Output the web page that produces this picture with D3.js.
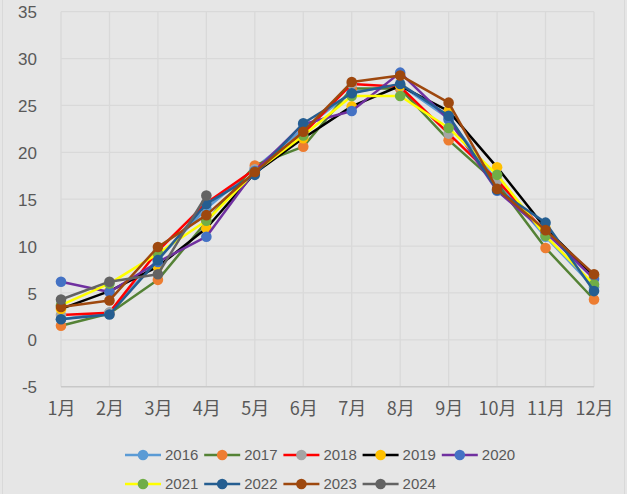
<!DOCTYPE html>
<html><head><meta charset="utf-8">
<script src="https://cdn.jsdelivr.net/npm/d3@7"></script>
<style>html,body{margin:0;padding:0;background:#e6e6e6;}svg{display:block;}</style>
</head><body>
<svg id="c" width="627" height="494"></svg>
<script>
const months = ["1月","2月","3月","4月","5月","6月","7月","8月","9月","10月","11月","12月"];
const yTicks = [-5,0,5,10,15,20,25,30,35];
const seriesNames = ["2016","2017","2018","2019","2020","2021","2022","2023","2024"];
const lineColors = ["#5B9BD5","#548235","#FF0000","#000000","#7030A0","#FFFF00","#255E91","#9E480E","#636363"];
const markerColors = ["#5B9BD5","#ED7D31","#A5A5A5","#FFC000","#4472C4","#70AD47","#255E91","#9E480E","#636363"];
const v2016 = [2.2, 2.9, 8.6, 14.0, 18.3, 22.5, 26.4, 27.2, 23.6, 16.9, 11.0, 5.6];
const v2017 = [1.5, 2.8, 6.4, 12.6, 18.6, 20.6, 26.8, 26.8, 21.3, 16.7, 9.8, 4.3];
const v2018 = [2.65, 2.9, 9.5, 14.6, 18.2, 22.0, 27.3, 27.0, 22.0, 17.0, 11.5, 6.8];
const v2019 = [3.3, 5.2, 7.8, 11.9, 17.8, 21.5, 24.9, 27.1, 24.4, 18.4, 11.9, 6.8];
const v2020 = [6.2, 5.1, 8.3, 11.0, 18.0, 23.0, 24.4, 28.5, 23.5, 15.9, 11.5, 6.5];
const v2021 = [3.7, 6.0, 9.2, 12.7, 17.9, 21.8, 26.0, 26.0, 22.6, 17.6, 11.1, 5.9];
const v2022 = [2.2, 2.7, 8.5, 14.5, 17.6, 23.1, 26.3, 27.3, 23.9, 16.0, 12.5, 5.2];
const v2023 = [3.5, 4.2, 9.9, 13.3, 17.9, 22.2, 27.5, 28.2, 25.3, 16.1, 11.7, 7.0];
const v2024 = [4.3, 6.2, 7.0, 15.4];
const allValues = [v2016,v2017,v2018,v2019,v2020,v2021,v2022,v2023,v2024];

(function(){
const svg = d3.select("#c");
const W = 627, H = 494;
svg.append("rect").attr("width",W).attr("height",H).attr("fill","#e6e6e6");
svg.append("rect").attr("x",2.5).attr("y",-1).attr("width",W-5).attr("height",H+2)
  .attr("fill","none").attr("stroke","#d9d9d9").attr("stroke-width",1);

const pLeft = 61, pRight = 594, pTop = 11.7, pBottom = 386.7;
const x = d3.scalePoint().domain(months).range([pLeft, pRight]);
const y = d3.scaleLinear().domain([-5,35]).range([pBottom, pTop]);
const font = "'Noto Sans CJK SC','Noto Sans',sans-serif";
const numFont = "'Liberation Sans',Arial,sans-serif";

svg.append("g").selectAll("line").data(yTicks.filter(d=>d>-5)).join("line")
  .attr("x1",pLeft).attr("x2",pRight).attr("y1",d=>y(d)).attr("y2",d=>y(d))
  .attr("stroke","#d9d9d9").attr("stroke-width",1.3);
svg.append("g").selectAll("line").data(months).join("line")
  .attr("x1",d=>x(d)).attr("x2",d=>x(d)).attr("y1",pTop).attr("y2",pBottom)
  .attr("stroke","#d9d9d9").attr("stroke-width",1.3);
svg.append("line").attr("x1",pLeft).attr("x2",pRight).attr("y1",pBottom).attr("y2",pBottom)
  .attr("stroke","#c8c8c8").attr("stroke-width",1.5);

const yAxis = d3.axisLeft(y).tickValues(yTicks).tickSize(0).tickPadding(0).tickFormat(d=>String(d));
const ga = svg.append("g").attr("transform",`translate(${pLeft-24},0)`).call(yAxis);
ga.select(".domain").remove();
ga.selectAll("text").attr("font-family",numFont).attr("font-size",17).attr("fill","#595959").attr("dy","0.36em");

const xAxis = d3.axisBottom(x).tickSize(0).tickPadding(0);
const gx = svg.append("g").attr("transform",`translate(0,${pBottom+17})`).call(xAxis);
gx.select(".domain").remove();
gx.selectAll("text").attr("font-family",font).attr("font-size",18).attr("fill","#595959").attr("dy","0.6em");

const line = d3.line().x((d,i)=>x(months[i])).y(d=>y(d));
allValues.forEach((vals,si)=>{
  const g = svg.append("g");
  g.append("path").datum(vals).attr("d",line).attr("fill","none")
    .attr("stroke",lineColors[si]).attr("stroke-width",2.5).attr("stroke-linejoin","round");
  g.selectAll("circle").data(vals).join("circle")
    .attr("cx",(d,i)=>x(months[i])).attr("cy",d=>y(d)).attr("r",5.3)
    .attr("fill",markerColors[si]);
});

const legendX0 = 125, legendStep = 79.2;
seriesNames.forEach((name,i)=>{
  const row = i < 5 ? 0 : 1;
  const col = i < 5 ? i : i - 5;
  const lx = legendX0 + col*legendStep;
  const ly = row === 0 ? 455 : 484;
  const g = svg.append("g");
  g.append("line").attr("x1",lx).attr("x2",lx+36).attr("y1",ly).attr("y2",ly)
    .attr("stroke",lineColors[i]).attr("stroke-width",2.5);
  g.append("circle").attr("cx",lx+18).attr("cy",ly).attr("r",5.3).attr("fill",markerColors[i]);
  g.append("text").attr("x",lx+40).attr("y",ly).attr("dy","0.36em")
    .attr("font-family",numFont).attr("font-size",15).attr("fill","#595959").text(name);
});
})();
</script>
</body></html>
